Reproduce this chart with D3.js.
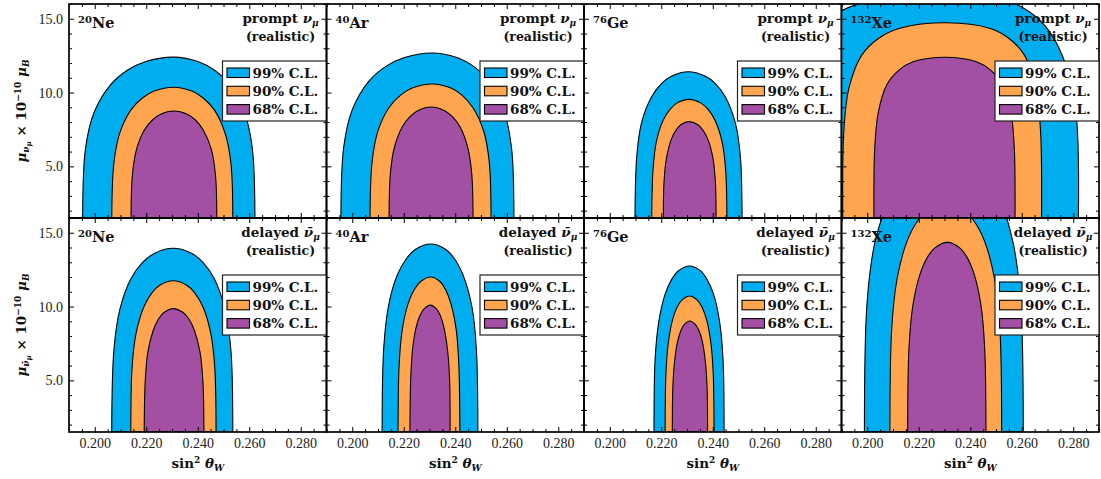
<!DOCTYPE html>
<html><head><meta charset="utf-8">
<script src="https://cdn.jsdelivr.net/npm/d3@7"></script>
<style>body{margin:0;background:#fff}svg{display:block}</style>
</head><body><svg id="c" width="1101" height="479"></svg>
<script>
const elements = ["Ne","Ar","Ge","Xe"];
const massNumbers = ["20","40","76","132"];
const channelNames = ["prompt","delayed"];
const channelNu = ["ν","ν̄"];
const clLabels = ["99% C.L.","90% C.L.","68% C.L."];
const xTicks = [0.200,0.220,0.240,0.260,0.280];
const yTicks = [5.0,10.0,15.0];
const xDomain = [0.19,0.29];
const yDomain = [1.5,16];

// contour rows: [mu, sin2 left, sin2 right]
const Ne_prompt_99 = [[1.5,0.1953,0.2622],[6.2,0.1964,0.2612],[8.68,0.1998,0.2581],[10.54,0.2062,0.2524],[11.53,0.2128,0.2464],[12.09,0.2196,0.2403],[12.4,0.2305,0.2305]];
const Ne_prompt_90 = [[1.5,0.2066,0.2536],[5.18,0.2074,0.2529],[7.25,0.2097,0.2506],[8.81,0.2140,0.2465],[9.63,0.2185,0.2421],[10.10,0.2231,0.2377],[10.36,0.2305,0.2305]];
const Ne_prompt_68 = [[1.5,0.2141,0.2474],[4.38,0.2146,0.2469],[6.13,0.2162,0.2453],[7.44,0.2192,0.2422],[8.14,0.2224,0.2391],[8.53,0.2256,0.2359],[8.75,0.2307,0.2307]];
const Ne_delayed_99 = [[1.5,0.2066,0.2536],[6.98,0.2074,0.2529],[9.77,0.2097,0.2506],[11.86,0.2140,0.2465],[12.97,0.2185,0.2421],[13.60,0.2231,0.2377],[13.95,0.2305,0.2305]];
const Ne_delayed_90 = [[1.5,0.2140,0.2471],[5.88,0.2145,0.2466],[8.23,0.2161,0.2450],[9.99,0.2191,0.2420],[10.93,0.2222,0.2388],[11.46,0.2254,0.2356],[11.75,0.2305,0.2305]];
const Ne_delayed_68 = [[1.5,0.2192,0.2424],[4.93,0.2196,0.2420],[6.90,0.2206,0.2409],[8.38,0.2227,0.2387],[9.17,0.2248,0.2365],[9.61,0.2270,0.2342],[9.86,0.2305,0.2305]];
const Ar_prompt_99 = [[1.5,0.1956,0.2628],[6.34,0.1967,0.2618],[8.88,0.2001,0.2587],[10.78,0.2065,0.2530],[11.79,0.2132,0.2470],[12.36,0.2200,0.2409],[12.68,0.2310,0.2310]];
const Ar_prompt_90 = [[1.5,0.2069,0.2539],[5.29,0.2077,0.2532],[7.41,0.2100,0.2510],[8.99,0.2143,0.2468],[9.84,0.2189,0.2425],[10.32,0.2235,0.2381],[10.58,0.2310,0.2310]];
const Ar_prompt_68 = [[1.5,0.2143,0.2469],[4.51,0.2148,0.2464],[6.31,0.2164,0.2448],[7.67,0.2194,0.2419],[8.39,0.2225,0.2388],[8.79,0.2256,0.2357],[9.02,0.2307,0.2307]];
const Ar_delayed_99 = [[1.5,0.2116,0.2488],[7.12,0.2122,0.2482],[9.97,0.2140,0.2465],[12.10,0.2174,0.2431],[13.24,0.2210,0.2397],[13.88,0.2246,0.2362],[14.24,0.2305,0.2305]];
const Ar_delayed_90 = [[1.5,0.2178,0.2418],[6.0,0.2182,0.2414],[8.4,0.2194,0.2404],[10.2,0.2217,0.2383],[11.16,0.2241,0.2362],[11.7,0.2266,0.2340],[12.0,0.2305,0.2305]];
const Ar_delayed_68 = [[1.5,0.2224,0.2380],[5.05,0.2227,0.2378],[7.07,0.2234,0.2370],[8.59,0.2248,0.2356],[9.39,0.2263,0.2342],[9.85,0.2279,0.2327],[10.1,0.2303,0.2303]];
const Ge_prompt_99 = [[1.5,0.2098,0.2514],[5.71,0.2105,0.2507],[7.99,0.2124,0.2487],[9.70,0.2162,0.2449],[10.61,0.2201,0.2410],[11.12,0.2241,0.2370],[11.41,0.2305,0.2305]];
const Ge_prompt_90 = [[1.5,0.2163,0.2455],[4.77,0.2168,0.2450],[6.68,0.2181,0.2436],[8.11,0.2207,0.2409],[8.87,0.2235,0.2381],[9.30,0.2262,0.2353],[9.54,0.2307,0.2307]];
const Ge_prompt_68 = [[1.5,0.2208,0.2413],[4.02,0.2211,0.2410],[5.62,0.2221,0.2400],[6.83,0.2239,0.2381],[7.47,0.2258,0.2361],[7.83,0.2277,0.2341],[8.03,0.2308,0.2308]];
const Ge_delayed_99 = [[1.5,0.2172,0.2444],[6.38,0.2176,0.2440],[8.93,0.2190,0.2427],[10.84,0.2215,0.2403],[11.86,0.2241,0.2377],[12.43,0.2267,0.2352],[12.75,0.2310,0.2310]];
const Ge_delayed_90 = [[1.5,0.2215,0.2405],[5.36,0.2218,0.2402],[7.50,0.2227,0.2393],[9.11,0.2244,0.2376],[9.97,0.2262,0.2358],[10.45,0.2281,0.2339],[10.72,0.2310,0.2310]];
const Ge_delayed_68 = [[1.5,0.2243,0.2380],[4.51,0.2245,0.2378],[6.31,0.2252,0.2371],[7.67,0.2264,0.2359],[8.39,0.2277,0.2346],[8.79,0.2290,0.2332],[9.02,0.2311,0.2311]];
const Xe_prompt_99 = [[1.5,0.1675,0.2820],[8.35,0.1681,0.2812],[11.69,0.1713,0.2775],[14.2,0.1790,0.2705],[15.53,0.1898,0.2625],[16.28,0.2025,0.2530],[16.7,0.2312,0.2312]];
const Xe_prompt_90 = [[1.5,0.1905,0.2677],[7.37,0.1909,0.2673],[10.31,0.1929,0.2655],[12.52,0.1978,0.2611],[13.70,0.2046,0.2548],[14.36,0.2127,0.2475],[14.73,0.2309,0.2309]];
const Xe_prompt_68 = [[1.5,0.2026,0.2574],[6.2,0.2029,0.2571],[8.67,0.2043,0.2558],[10.53,0.2076,0.2525],[11.52,0.2123,0.2479],[12.08,0.2178,0.2424],[12.39,0.2302,0.2302]];
const Xe_delayed_99 = [[1.5,0.1989,0.2606],[10.2,0.1999,0.2596],[14.28,0.2029,0.2567],[17.34,0.2087,0.2513],[18.97,0.2146,0.2456],[19.89,0.2207,0.2398],[20.4,0.2305,0.2305]];
const Xe_delayed_90 = [[1.5,0.2088,0.2522],[8.5,0.2095,0.2515],[11.9,0.2116,0.2494],[14.45,0.2155,0.2455],[15.81,0.2196,0.2414],[16.58,0.2238,0.2372],[17.0,0.2305,0.2305]];
const Xe_delayed_68 = [[1.5,0.2157,0.2461],[7.18,0.2162,0.2456],[10.05,0.2177,0.2442],[12.2,0.2205,0.2415],[13.35,0.2234,0.2387],[13.99,0.2264,0.2358],[14.35,0.2312,0.2312]];

const panelContours = [
  [[Ne_prompt_99,Ne_prompt_90,Ne_prompt_68],[Ar_prompt_99,Ar_prompt_90,Ar_prompt_68],
   [Ge_prompt_99,Ge_prompt_90,Ge_prompt_68],[Xe_prompt_99,Xe_prompt_90,Xe_prompt_68]],
  [[Ne_delayed_99,Ne_delayed_90,Ne_delayed_68],[Ar_delayed_99,Ar_delayed_90,Ar_delayed_68],
   [Ge_delayed_99,Ge_delayed_90,Ge_delayed_68],[Xe_delayed_99,Xe_delayed_90,Xe_delayed_68]]
];

const colors = ["#00aeef","#ffa54f","#a34fa3"];
const L = 69, T = 4, PW = 257.5, PH = 214;
const boldFont = "DejaVu Serif", tickFont = "Liberation Serif";

const svg = d3.select("#c");
const defs = svg.append("defs");

function rich(sel, parts) {
  let prev = 0;
  parts.forEach(p => {
    const off = p.off || 0;
    const ts = sel.append("tspan").text(p.t).attr("dy", off - prev);
    if (p.fs) ts.attr("font-size", p.fs);
    if (p.it) ts.attr("font-style", "italic");
    prev = off;
  });
}

const xMinor = d3.range(0.19, 0.2901, 0.005).filter(v => !xTicks.some(t => Math.abs(t - v) < 1e-6));
const yMinor = d3.range(2, 16.01, 1).filter(v => !yTicks.some(t => Math.abs(t - v) < 1e-6));

channelNames.forEach((ch, row) => {
  elements.forEach((el, col) => {
    const x0 = L + col * PW, y0 = T + row * PH;
    const x = d3.scaleLinear().domain(xDomain).range([x0, x0 + PW]);
    const y = d3.scaleLinear().domain(yDomain).range([y0 + PH, y0]);
    const id = `clip${row}${col}`;
    defs.append("clipPath").attr("id", id).append("rect")
      .attr("x", x0).attr("y", y0).attr("width", PW).attr("height", PH);
    const g = svg.append("g").attr("clip-path", `url(#${id})`);
    const line = d3.line().x(d => x(d[0])).y(d => y(d[1])).curve(d3.curveCatmullRom.alpha(0.5));
    panelContours[row][col].forEach((rows, i) => {
      const left = rows.map(r => [r[1], r[0]]);
      const right = rows.slice(0, -1).reverse().map(r => [r[2], r[0]]);
      g.append("path").attr("d", line(left.concat(right)) + "Z")
        .attr("fill", colors[i]).attr("stroke", "#000").attr("stroke-width", 1.1)
        .attr("stroke-linejoin", "round");
    });

    // axes (ticks inward on all sides)
    const ax = svg.append("g").attr("font-family", tickFont).attr("font-size", 14);
    const mk = (axisFn, scale, vals, size, fmt, tr) => {
      const a = axisFn(scale).tickValues(vals).tickSizeInner(-size).tickSizeOuter(0).tickPadding(6)
        .tickFormat(fmt || (() => ""));
      const gg = ax.append("g").attr("transform", tr).call(a);
      gg.select(".domain").remove();
      gg.selectAll("line").attr("stroke", "#000").attr("stroke-width", 1);
      gg.selectAll("text").attr("font-family", tickFont).attr("font-size", 14).attr("fill", "#222");
      return gg;
    };
    const bottomRow = row === 1, leftCol = col === 0;
    mk(d3.axisBottom, x, xTicks, 5, bottomRow ? d3.format(".3f") : null, `translate(0,${y0 + PH})`);
    mk(d3.axisBottom, x, xMinor, 3, null, `translate(0,${y0 + PH})`);
    mk(d3.axisTop, x, xTicks, 5, null, `translate(0,${y0})`);
    mk(d3.axisTop, x, xMinor, 3, null, `translate(0,${y0})`);
    mk(d3.axisLeft, y, yTicks, 5, leftCol ? d3.format(".1f") : null, `translate(${x0},0)`);
    mk(d3.axisLeft, y, yMinor, 3, null, `translate(${x0},0)`);
    mk(d3.axisRight, y, yTicks, 5, null, `translate(${x0 + PW},0)`);
    mk(d3.axisRight, y, yMinor, 3, null, `translate(${x0 + PW},0)`);

    svg.append("rect").attr("x", x0).attr("y", y0).attr("width", PW).attr("height", PH)
      .attr("fill", "none").attr("stroke", "#000").attr("stroke-width", 1.7);

    // nucleus label
    const nl = svg.append("text").attr("x", x0 + 9).attr("y", y0 + 24)
      .attr("font-family", boldFont).attr("font-weight", "bold").attr("font-size", 14.5).attr("fill", "#111");
    rich(nl, [{t: massNumbers[col], fs: 10, off: -5.5}, {t: el, off: 0}]);

    // channel label
    const cx = x0 + PW - 46;
    const cl = svg.append("text").attr("x", cx).attr("y", y0 + 19).attr("text-anchor", "middle")
      .attr("font-family", boldFont).attr("font-weight", "bold").attr("font-size", 13.5).attr("fill", "#111");
    rich(cl, [{t: ch + " "}, {t: channelNu[row], it: true}, {t: "μ", it: true, fs: 9, off: 2.5}]);
    svg.append("text").attr("x", cx).attr("y", y0 + 36.5).attr("text-anchor", "middle")
      .attr("font-family", boldFont).attr("font-weight", "bold").attr("font-size", 12.5).attr("fill", "#111")
      .text("(realistic)");

    // legend
    const lw = 104, lh = 60;
    const lx = x0 + PW - lw, ly = y0 + 57;
    const lg = svg.append("g");
    lg.append("rect").attr("x", lx).attr("y", ly).attr("width", lw).attr("height", lh)
      .attr("fill", "#fff").attr("stroke", "#222").attr("stroke-width", 1.2);
    clLabels.forEach((lab, i) => {
      lg.append("rect").attr("x", lx + 4.5).attr("y", ly + 7 + i * 18.3).attr("width", 22.5).attr("height", 9.5)
        .attr("fill", colors[i]).attr("stroke", "#000").attr("stroke-width", 1.1);
      lg.append("text").attr("x", lx + 30).attr("y", ly + 16.5 + i * 18.3)
        .attr("font-family", boldFont).attr("font-weight", "bold").attr("font-size", 13.5).attr("fill", "#111")
        .text(lab);
    });

    // x title
    if (bottomRow) {
      const xt = svg.append("text").attr("x", x0 + PW / 2).attr("y", y0 + PH + 36).attr("text-anchor", "middle")
        .attr("font-family", boldFont).attr("font-weight", "bold").attr("font-size", 13.5).attr("fill", "#111");
      rich(xt, [{t: "sin"}, {t: "2", fs: 9, off: -5}, {t: " θ", it: true, off: 0}, {t: "W", it: true, fs: 9, off: 3}]);
    }
    // y title
    if (leftCol) {
      const yt = svg.append("text").attr("transform", `translate(26,${y0 + PH / 2}) rotate(-90)`)
        .attr("text-anchor", "middle")
        .attr("font-family", boldFont).attr("font-weight", "bold").attr("font-size", 13.5).attr("fill", "#111");
      rich(yt, [{t: "μ", it: true}, {t: channelNu[row], it: true, fs: 9, off: 3}, {t: "μ", it: true, fs: 7, off: 5},
        {t: " × 10", off: 0}, {t: "−10", fs: 9, off: -5}, {t: " μ", it: true, off: 0}, {t: "B", it: true, fs: 9, off: 3}]);
    }
  });
});
</script></body></html>
